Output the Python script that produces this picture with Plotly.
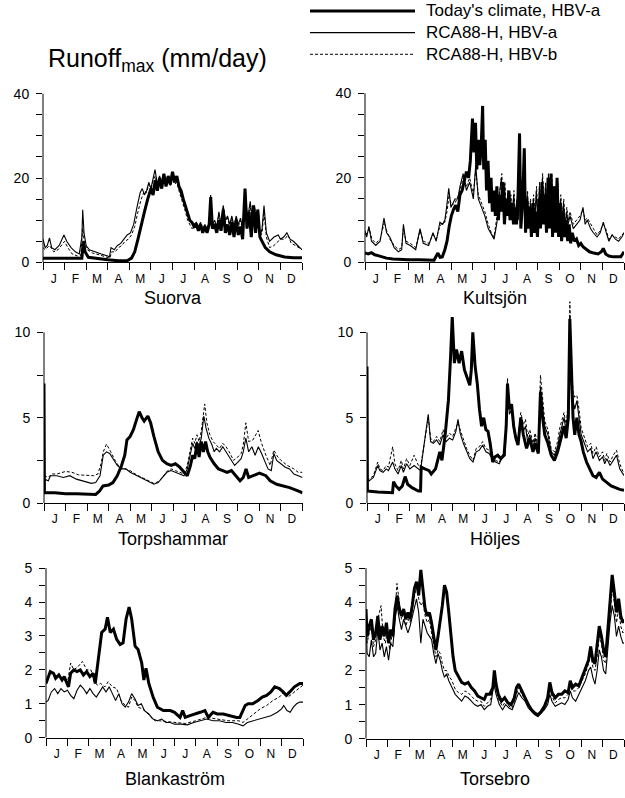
import plotly.graph_objects as go

W, H = 625, 798

MONTH_LABELS = ["J", "F", "M", "A", "M", "J", "J", "A", "S", "O", "N", "D"]
SERIES_NAMES = ["Today's climate, HBV-a", "RCA88-H, HBV-a", "RCA88-H, HBV-b"]
STATIONS = ["Suorva", "Kultsjön", "Torpshammar", "Höljes", "Blankaström", "Torsebro"]
Y_TICK_MAX = [40, 40, 10, 10, 5, 5]
Y_LABEL_STEP = [20, 20, 5, 5, 1, 1]
Y_MINOR_STEP = [5, 5, 2.5, 2.5, 0.5, 0.5]

# ---- data: (month position, runoff mm/day) ----
suorva_today = [(0,1.0),(0.5,1.0),(1.0,0.9),(1.5,1.0),(1.8,1.0),(1.87,5.0),(1.95,2.5),(2.1,1.2),(2.5,0.9),(3.0,0.6),
 (3.5,0.4),(3.9,0.4),(4.1,1.0),(4.25,2.5),(4.4,5.5),(4.55,9),(4.7,12),(4.85,15),(5.0,17.5),(5.1,16),
 (5.2,19.5),(5.3,17),(5.4,20),(5.5,17.5),(5.6,21),(5.7,18),(5.8,20.5),(5.9,18.5),(6.0,21.5),(6.1,19),
 (6.2,20.5),(6.3,18),(6.4,17),(6.5,15),(6.6,13.5),(6.7,11.5),(6.8,10),(6.9,9.5),(7.0,8.5),(7.1,9),
 (7.2,7.5),(7.3,9),(7.4,7),(7.5,8.5),(7.6,7),(7.7,9),(7.77,15.5),(7.85,8),(7.95,9),(8.05,7),
 (8.15,10),(8.25,7.5),(8.35,12.5),(8.45,7),(8.55,9),(8.65,6.5),(8.75,9.5),(8.85,6),(8.95,10),(9.05,6.5),
 (9.15,8.5),(9.25,5.5),(9.36,17.5),(9.45,8),(9.55,12),(9.65,6),(9.75,13.5),(9.85,7),(9.95,12.5),(10.05,6),
 (10.15,5),(10.3,3.5),(10.5,2.5),(10.8,1.8),(11.2,1.3),(11.6,1.1),(12.0,1.1)]
suorva_a = [(0,5.5),(0.1,3.5),(0.2,4),(0.3,5.8),(0.4,3.5),(0.55,3.0),(0.75,4.0),(0.9,6.0),(0.97,6.5),(1.1,5),
 (1.3,3.5),(1.5,2.5),(1.68,2.0),(1.8,6),(1.84,12.5),(1.9,7),(2.0,4),(2.15,3),(2.4,2.5),(2.7,2.0),
 (3.0,1.5),(3.08,1.3),(3.15,3.5),(3.3,3),(3.45,4),(3.6,4.5),(3.75,5.5),(3.9,6.5),(4.05,7),(4.2,9),
 (4.35,13),(4.5,16.5),(4.6,17.5),(4.7,16),(4.8,17),(4.9,19),(5.0,17.5),(5.1,20),(5.19,22),(5.3,18.5),
 (5.4,20.5),(5.5,19),(5.6,20.5),(5.7,19),(5.8,20),(5.9,19),(6.0,21),(6.1,19),(6.2,19.5),(6.3,17.5),
 (6.4,16),(6.5,14.5),(6.6,12.5),(6.7,11),(6.8,10),(6.9,9.5),(7.0,9),(7.1,9.5),(7.2,8.5),(7.3,9.5),
 (7.4,8),(7.5,9),(7.6,8),(7.7,9.5),(7.77,16),(7.85,9),(7.95,10),(8.05,8.5),(8.15,12),(8.25,9),
 (8.35,13.5),(8.45,10),(8.55,11),(8.65,9),(8.75,11),(8.85,8.5),(8.95,11),(9.05,9),(9.15,10.5),(9.25,8),
 (9.38,17),(9.47,10),(9.6,14.5),(9.7,10),(9.8,13.5),(9.9,9),(9.98,12.5),(10.05,6),(10.15,8),(10.24,13.5),
 (10.35,7),(10.5,5),(10.7,6),(10.9,6.5),(11.0,5.5),(11.15,6),(11.3,7),(11.45,5.5),(11.6,5),(11.8,4),(12,3)]
suorva_b = [(0,3.5),(0.1,3),(0.3,4.0),(0.5,2.5),(0.7,3),(0.9,4.5),(1.0,5),(1.15,3.5),(1.35,2),(1.6,1.5),
 (1.75,1.6),(1.84,8),(1.92,4.5),(2.05,3),(2.3,2.2),(2.6,1.8),(2.9,1.3),(3.1,1.0),(3.18,2.5),(3.35,2.5),
 (3.5,3.5),(3.65,4),(3.8,5),(3.95,5.5),(4.1,6.5),(4.25,8.5),(4.4,12),(4.55,15),(4.7,17),(4.8,16.5),
 (4.9,18.5),(5.0,17),(5.1,19.5),(5.2,20.5),(5.3,18),(5.4,20),(5.5,18.5),(5.6,20),(5.7,18.5),(5.8,19.5),
 (5.9,18),(6.0,20),(6.1,18.5),(6.2,19),(6.3,17),(6.4,15.5),(6.5,13.5),(6.6,12),(6.7,10),(6.8,9),
 (6.9,8),(7.0,8.5),(7.1,9),(7.2,8),(7.3,9),(7.4,7.5),(7.5,8.5),(7.6,7.5),(7.7,9),(7.77,14),
 (7.85,8.5),(7.95,9.5),(8.05,8),(8.15,11.5),(8.25,8.5),(8.35,13),(8.45,9.5),(8.55,10.5),(8.65,8.5),(8.75,10.5),
 (8.85,8),(8.95,10.5),(9.05,8.5),(9.15,10),(9.25,7.5),(9.38,16),(9.47,9.5),(9.6,13.5),(9.7,9.5),(9.8,13),
 (9.9,8.5),(9.98,12),(10.05,6),(10.15,7),(10.24,12),(10.35,6),(10.5,3.5),(10.7,4),(10.9,5),(11.05,5.5),
 (11.2,5.5),(11.35,6.5),(11.5,4.5),(11.7,4),(11.85,3.5),(12,3)]

kultsjon_today = [(0,2.2),(0.15,2.0),(0.3,2.3),(0.45,1.8),(0.6,1.6),(0.8,1.3),(1.0,1.0),(1.3,0.8),(1.6,0.7),(2.0,0.6),
 (2.5,0.6),(3.0,0.5),(3.2,0.5),(3.3,1.5),(3.38,2.2),(3.48,1.2),(3.58,1.3),(3.7,3),(3.8,5),(3.9,8.5),
 (4.0,11),(4.1,12.5),(4.2,13.5),(4.3,12),(4.4,16),(4.5,17),(4.6,19),(4.7,21.5),(4.8,20),(4.88,24),
 (4.98,34),(5.05,26),(5.12,33),(5.18,22),(5.25,29),(5.32,23),(5.38,27),(5.45,37),(5.5,22),(5.57,29),
 (5.63,17),(5.7,24),(5.77,14),(5.84,20),(5.9,12),(5.97,17),(6.04,11),(6.11,18),(6.18,10),(6.25,16),
 (6.32,12),(6.39,19),(6.46,9),(6.53,15),(6.6,11),(6.67,17),(6.74,10),(6.81,14),(6.88,9),(6.95,13),
 (7.02,9),(7.09,16),(7.16,30.5),(7.22,8),(7.3,14),(7.38,27),(7.44,7),(7.5,15),(7.57,8),(7.64,13),
 (7.71,6),(7.78,14),(7.85,7),(7.92,12),(7.99,6),(8.06,15),(8.13,8),(8.2,19),(8.27,9),(8.34,16),
 (8.41,7),(8.48,20),(8.55,8),(8.62,21),(8.69,6),(8.76,18),(8.83,7),(8.9,20),(8.97,6),(9.04,14),
 (9.11,5),(9.18,12),(9.25,6),(9.32,10),(9.39,5),(9.46,9),(9.53,4.5),(9.6,7),(9.7,5),(9.8,5.5),
 (9.9,4),(10.0,4.5),(10.1,3.7),(10.25,3),(10.4,2.5),(10.6,2.2),(10.8,2),(10.95,2.5),(11.04,3.3),(11.15,2),
 (11.3,1.5),(11.5,1.3),(11.7,1.2),(11.85,1.3),(12,2.5)]
kultsjon_a = [(0,7.5),(0.08,6),(0.18,8.5),(0.3,5),(0.5,4),(0.7,5),(0.88,10.5),(1.0,7),(1.15,6),(1.35,3.5),
 (1.55,2.5),(1.7,3),(1.78,9),(1.9,4.5),(2.1,4),(2.35,3),(2.55,8),(2.7,4.5),(2.95,4),(3.15,7),
 (3.3,5),(3.47,9.5),(3.6,9),(3.7,10),(3.78,13),(3.88,17.5),(3.98,13),(4.17,15),(4.3,15),(4.4,18),
 (4.55,21),(4.7,17),(4.85,19),(5.02,15),(5.13,23),(5.25,15),(5.4,13),(5.55,11),(5.71,8),(5.85,6.5),
 (5.98,5.5),(6.1,9),(6.2,13),(6.25,17),(6.32,20),(6.4,13),(6.47,18),(6.54,11),(6.61,16),(6.68,10),
 (6.75,15),(6.82,11),(6.89,16),(6.96,10),(7.03,14),(7.1,10),(7.17,22),(7.24,10),(7.31,15),(7.38,20),
 (7.45,10),(7.52,16),(7.59,9),(7.66,14),(7.73,9),(7.8,15),(7.87,10),(7.94,17),(8.01,8),(8.08,18),
 (8.15,9),(8.22,20),(8.29,10),(8.36,18),(8.43,9),(8.5,21),(8.57,10),(8.64,20),(8.71,9),(8.78,17),
 (8.85,10),(8.92,18),(8.99,9),(9.06,15),(9.13,10),(9.2,14),(9.27,8),(9.34,12),(9.41,9),(9.5,11),
 (9.65,8),(9.8,9),(9.96,10),(10.1,13),(10.2,9),(10.3,10),(10.45,8),(10.58,7),(10.75,6),(10.9,7),
 (11.04,9.5),(11.15,7.5),(11.3,5),(11.45,6.5),(11.6,5.5),(11.75,5),(11.9,6),(12,7)]
kultsjon_b = [(0,6.5),(0.1,7),(0.2,8),(0.32,5.5),(0.5,4.5),(0.7,5.5),(0.9,9.5),(1.0,7.5),(1.15,5.5),(1.35,4),
 (1.55,3),(1.7,3.5),(1.78,8),(1.9,5),(2.1,4.5),(2.35,3.5),(2.55,7.5),(2.7,5),(2.95,4.5),(3.15,6.5),
 (3.3,5.5),(3.47,8.5),(3.6,9.5),(3.7,9.5),(3.8,12),(3.9,16),(4.0,13.5),(4.17,14),(4.3,15.5),(4.4,17),
 (4.55,20),(4.7,18),(4.85,20),(5.02,16),(5.13,22),(5.25,16),(5.4,14),(5.55,12),(5.71,9),(5.85,7),
 (5.98,6),(6.1,10),(6.2,14),(6.27,18),(6.34,21),(6.41,12),(6.48,19),(6.55,12),(6.62,17),(6.69,11),
 (6.76,16),(6.83,10),(6.9,17),(6.97,11),(7.04,15),(7.11,11),(7.18,21),(7.25,11),(7.32,16),(7.39,19),
 (7.46,11),(7.53,17),(7.6,10),(7.67,15),(7.74,10),(7.81,16),(7.88,11),(7.95,18),(8.02,9),(8.09,19),
 (8.16,10),(8.23,21),(8.3,11),(8.37,19),(8.44,10),(8.51,20),(8.58,11),(8.65,21),(8.72,10),(8.79,18),
 (8.86,11),(8.93,19),(9.0,10),(9.07,16),(9.14,11),(9.21,15),(9.28,9),(9.35,13),(9.42,10),(9.5,12),
 (9.65,9),(9.8,10),(9.96,11),(10.1,12.5),(10.2,10),(10.3,10.5),(10.45,9),(10.58,8),(10.75,6.5),(10.9,7.5),
 (11.04,9),(11.15,8),(11.3,5.5),(11.45,6.5),(11.6,6),(11.75,5.5),(11.9,6.5),(12,7)]

torpshammar_today = [(0,7.0),(0.02,0.6),(0.5,0.6),(1.0,0.55),(1.5,0.55),(2.0,0.5),(2.4,0.5),(2.58,0.7),(2.74,1.0),(3.0,1.05),
 (3.2,1.2),(3.4,1.6),(3.6,2.2),(3.75,2.8),(3.85,3.7),(4.0,3.9),(4.15,4.3),(4.3,4.9),(4.42,5.35),(4.55,5.0),
 (4.65,4.8),(4.82,5.1),(4.95,4.7),(5.1,3.9),(5.3,3.0),(5.5,2.5),(5.7,2.3),(5.9,2.2),(6.1,2.3),(6.3,2.1),
 (6.5,1.8),(6.65,1.6),(6.8,2.2),(6.9,2.8),(7.0,2.6),(7.1,3.5),(7.2,2.7),(7.3,3.6),(7.4,3.0),(7.5,3.6),
 (7.6,3.0),(7.7,2.7),(7.9,2.3),(8.1,2.0),(8.3,1.9),(8.5,1.8),(8.7,1.9),(8.9,1.6),(9.1,1.3),(9.25,1.5),
 (9.38,2.0),(9.5,1.5),(9.7,1.6),(10.0,1.75),(10.3,1.6),(10.5,1.3),(10.8,1.1),(11.1,1.0),(11.4,0.9),(11.7,0.75),
 (12,0.6)]
torpshammar_a = [(0,1.4),(0.2,1.3),(0.3,1.6),(0.6,1.6),(0.9,1.5),(1.2,1.6),(1.5,1.4),(1.8,1.3),(2.0,1.2),(2.2,1.15),
 (2.4,1.2),(2.6,1.6),(2.75,2.8),(2.9,3.0),(3.05,2.9),(3.2,2.6),(3.4,2.2),(3.6,2.0),(3.8,2.0),(4.0,1.8),
 (4.3,1.6),(4.6,1.4),(4.9,1.2),(5.1,1.1),(5.3,1.2),(5.5,1.5),(5.7,1.8),(5.9,1.9),(6.1,1.8),(6.3,1.7),
 (6.5,1.6),(6.65,2.0),(6.8,2.8),(6.9,3.5),(7.0,3.2),(7.1,3.6),(7.2,3.3),(7.3,3.8),(7.42,5.1),(7.52,4.4),
 (7.65,3.8),(7.8,3.4),(7.9,3.0),(8.0,3.2),(8.15,3.0),(8.3,3.3),(8.5,2.9),(8.7,2.5),(8.85,2.2),(9.0,2.4),
 (9.15,2.6),(9.25,3.0),(9.37,3.8),(9.5,3.0),(9.65,3.3),(9.8,2.8),(9.95,3.3),(10.1,2.9),(10.25,2.5),(10.4,2.0),
 (10.55,1.9),(10.67,2.9),(10.8,2.5),(11.0,2.3),(11.2,2.1),(11.4,2.0),(11.6,1.7),(11.8,1.6),(12,1.5)]
torpshammar_b = [(0,1.6),(0.2,1.5),(0.35,1.7),(0.6,1.7),(1.0,1.85),(1.3,1.8),(1.6,1.65),(2.0,1.6),(2.3,1.6),(2.5,1.7),
 (2.65,2.3),(2.75,3.0),(2.9,3.45),(3.1,3.0),(3.3,2.5),(3.5,2.1),(3.8,2.0),(4.0,1.9),(4.3,1.65),(4.6,1.45),
 (4.9,1.25),(5.1,1.15),(5.3,1.25),(5.5,1.5),(5.7,1.85),(5.9,2.0),(6.1,1.9),(6.3,1.8),(6.5,1.7),(6.65,2.2),
 (6.8,3.1),(6.9,3.8),(7.0,3.5),(7.1,4.0),(7.2,3.6),(7.3,4.2),(7.46,5.8),(7.56,4.7),(7.7,4.0),(7.85,3.6),
 (8.0,3.4),(8.15,3.2),(8.3,3.5),(8.45,3.3),(8.6,3.0),(8.8,2.5),(9.0,2.7),(9.15,2.9),(9.25,3.4),(9.37,4.7),
 (9.5,3.6),(9.7,3.7),(9.94,4.25),(10.1,3.5),(10.3,2.8),(10.5,2.2),(10.67,3.1),(10.85,2.7),(11.0,2.5),(11.3,2.2),
 (11.6,2.0),(11.8,1.8),(12,1.8)]

holjes_today = [(0,8.0),(0.02,0.7),(0.5,0.65),(1.0,0.6),(1.19,0.6),(1.24,1.25),(1.35,1.0),(1.5,0.8),(1.65,1.0),(1.78,1.55),
 (1.9,1.1),(2.1,0.9),(2.4,0.7),(2.5,0.7),(2.53,2.1),(2.7,2.0),(2.9,1.9),(3.0,1.7),(3.2,2.0),(3.4,3.0),
 (3.5,2.5),(3.65,4.0),(3.8,6.0),(3.9,8.5),(3.98,10.9),(4.08,8.2),(4.18,9.0),(4.3,8.2),(4.42,8.9),(4.55,7.8),
 (4.7,7.2),(4.8,6.9),(4.87,7.8),(4.94,10.0),(5.05,8.0),(5.15,7.0),(5.25,5.5),(5.35,4.5),(5.45,5.0),(5.55,4.3),
 (5.65,4.2),(5.75,3.5),(5.87,2.4),(5.97,2.7),(6.1,2.8),(6.25,2.6),(6.4,2.8),(6.5,4.5),(6.56,7.0),(6.65,5.5),
 (6.75,5.8),(6.85,4.5),(6.95,3.8),(7.05,3.4),(7.18,5.0),(7.3,4.0),(7.45,3.2),(7.6,3.8),(7.75,3.0),(7.85,3.5),
 (8.0,2.9),(8.1,6.5),(8.2,5.0),(8.3,4.0),(8.45,3.5),(8.6,2.8),(8.75,2.5),(8.9,3.0),(9.0,3.5),(9.1,4.0),
 (9.2,4.5),(9.3,3.8),(9.4,5.0),(9.47,10.8),(9.55,7.0),(9.62,5.0),(9.7,4.0),(9.8,5.0),(9.9,4.0),(10.0,3.6),
 (10.1,3.0),(10.25,2.4),(10.4,2.0),(10.55,1.6),(10.7,1.5),(10.85,1.8),(11.0,1.4),(11.2,1.2),(11.4,1.0),(11.6,0.9),
 (11.8,0.8),(12,0.75)]
holjes_a = [(0,1.5),(0.1,1.3),(0.2,1.4),(0.3,1.5),(0.5,2.2),(0.6,1.9),(0.75,1.8),(0.9,2.0),(1.0,1.9),(1.2,2.4),
 (1.3,2.0),(1.45,1.7),(1.6,2.2),(1.7,1.8),(1.85,2.3),(2.0,2.0),(2.2,2.2),(2.4,2.0),(2.5,1.9),(2.86,5.2),
 (2.97,3.6),(3.1,3.5),(3.25,3.7),(3.4,3.4),(3.55,4.0),(3.7,3.6),(3.85,3.8),(4.0,3.7),(4.15,4.2),(4.25,4.9),
 (4.35,4.1),(4.5,3.5),(4.65,3.0),(4.8,2.6),(4.95,2.4),(5.1,3.0),(5.25,3.1),(5.4,3.4),(5.55,3.0),(5.7,2.9),
 (5.85,2.6),(6.0,2.4),(6.18,2.3),(6.35,2.8),(6.45,2.8),(6.56,6.8),(6.65,5.2),(6.75,5.5),(6.85,4.3),(6.95,3.7),
 (7.05,3.5),(7.18,4.8),(7.3,4.2),(7.4,4.5),(7.5,3.6),(7.6,4.0),(7.75,3.2),(7.85,3.8),(8.0,3.0),(8.1,6.8),
 (8.2,5.5),(8.3,4.5),(8.45,4.0),(8.6,3.0),(8.75,2.8),(8.9,3.3),(9.0,4.0),(9.1,4.5),(9.2,5.0),(9.3,4.2),
 (9.4,5.5),(9.47,11.0),(9.55,7.5),(9.62,6.0),(9.7,5.5),(9.8,6.0),(9.9,5.0),(10.0,4.0),(10.15,3.5),(10.3,3.0),
 (10.45,3.2),(10.55,2.6),(10.7,3.0),(10.85,2.5),(11.0,2.7),(11.1,2.3),(11.2,2.6),(11.35,2.2),(11.5,2.5),(11.65,2.8),
 (11.8,2.0),(12,1.6)]
holjes_b = [(0,1.5),(0.1,1.4),(0.2,1.5),(0.3,1.6),(0.5,2.4),(0.6,2.0),(0.75,1.9),(0.9,2.2),(1.0,2.1),(1.2,3.3),
 (1.3,2.3),(1.45,1.9),(1.6,2.5),(1.7,2.0),(1.85,2.6),(2.0,2.2),(2.2,2.8),(2.4,2.2),(2.5,2.1),(2.86,5.0),
 (2.97,3.8),(3.1,3.6),(3.25,3.9),(3.4,3.6),(3.55,4.3),(3.7,3.8),(3.85,4.1),(4.0,3.9),(4.15,4.4),(4.25,4.7),
 (4.35,4.3),(4.5,3.7),(4.65,3.2),(4.8,2.8),(4.95,2.5),(5.1,3.2),(5.25,3.3),(5.4,3.6),(5.55,3.2),(5.7,3.1),
 (5.85,2.7),(6.0,2.5),(6.18,2.4),(6.35,2.9),(6.45,3.0),(6.56,7.3),(6.65,5.6),(6.75,5.8),(6.85,4.6),(6.95,3.9),
 (7.05,3.7),(7.18,5.3),(7.3,4.6),(7.4,4.9),(7.5,3.9),(7.6,4.3),(7.75,3.5),(7.85,4.1),(8.0,3.2),(8.1,7.5),
 (8.2,6.0),(8.3,4.8),(8.45,4.3),(8.6,3.2),(8.75,3.0),(8.9,3.6),(9.0,4.4),(9.1,4.8),(9.2,5.3),(9.3,4.5),
 (9.4,6.0),(9.47,11.8),(9.55,8.0),(9.62,6.5),(9.7,6.2),(9.8,6.3),(9.9,5.5),(10.0,4.4),(10.15,3.8),(10.3,3.3),
 (10.45,3.5),(10.55,2.9),(10.7,3.3),(10.85,2.7),(11.0,3.0),(11.1,2.5),(11.2,2.9),(11.35,2.4),(11.5,2.8),(11.65,3.1),
 (11.8,2.3),(12,1.7)]

blankastrom_today = [(0,1.6),(0.1,1.8),(0.2,1.95),(0.35,1.9),(0.45,1.75),(0.6,1.85),(0.75,1.7),(0.85,1.8),(1.0,1.55),(1.05,1.5),
 (1.15,1.9),(1.3,2.0),(1.45,1.95),(1.6,2.0),(1.75,1.85),(1.9,1.95),(2.05,1.8),(2.2,1.9),(2.3,1.6),(2.45,2.3),
 (2.6,3.1),(2.76,3.2),(2.87,3.55),(3.0,3.1),(3.15,3.2),(3.3,2.9),(3.46,2.75),(3.6,2.8),(3.74,3.5),(3.88,3.85),
 (4.0,3.5),(4.16,2.7),(4.3,2.6),(4.47,2.2),(4.57,1.7),(4.67,2.05),(4.8,1.6),(5.0,1.2),(5.2,0.9),(5.48,0.8),
 (5.8,0.8),(6.0,0.75),(6.26,0.6),(6.38,0.8),(6.5,0.6),(6.72,0.65),(7.03,0.7),(7.2,0.75),(7.42,0.8),(7.58,0.6),
 (7.8,0.75),(8.0,0.7),(8.28,0.7),(8.6,0.65),(8.9,0.6),(9.05,0.6),(9.18,0.8),(9.3,0.95),(9.44,1.0),(9.65,1.0),
 (9.9,1.1),(10.1,1.2),(10.3,1.25),(10.5,1.35),(10.68,1.5),(10.9,1.45),(11.07,1.35),(11.22,1.25),(11.38,1.35),(11.6,1.5),
 (11.85,1.6),(12,1.6)]
blankastrom_a = [(0,1.05),(0.1,1.1),(0.25,1.35),(0.4,1.45),(0.55,1.3),(0.7,1.45),(0.85,1.35),(1.0,1.4),(1.15,1.25),(1.3,1.15),
 (1.45,1.4),(1.6,1.55),(1.75,1.45),(1.9,1.3),(2.05,1.45),(2.2,1.3),(2.35,1.2),(2.5,1.35),(2.65,1.5),(2.8,1.35),
 (2.95,1.5),(3.1,1.3),(3.25,1.1),(3.4,1.3),(3.55,1.0),(3.7,0.9),(3.85,1.05),(4.0,1.3),(4.15,1.15),(4.3,0.95),
 (4.45,1.0),(4.6,0.8),(4.8,0.7),(5.0,0.55),(5.2,0.5),(5.4,0.55),(5.6,0.45),(5.8,0.45),(6.0,0.4),(6.3,0.4),
 (6.6,0.38),(6.9,0.45),(7.2,0.5),(7.5,0.55),(7.8,0.5),(8.1,0.5),(8.4,0.45),(8.7,0.45),(9.0,0.4),(9.2,0.35),
 (9.4,0.45),(9.7,0.5),(10.0,0.55),(10.3,0.6),(10.5,0.65),(10.8,0.75),(11.0,0.85),(11.1,0.95),(11.25,0.8),(11.4,0.75),
 (11.55,0.9),(11.7,1.0),(11.85,1.05),(12,1.05)]
blankastrom_b = [(0,1.6),(0.2,1.9),(0.4,1.85),(0.6,1.8),(0.8,1.75),(1.0,1.6),(1.15,2.2),(1.3,2.0),(1.5,2.1),(1.7,2.25),
 (1.9,2.0),(2.1,2.0),(2.25,1.65),(2.4,1.55),(2.55,1.6),(2.75,1.5),(2.9,1.65),(3.1,1.5),(3.3,1.45),(3.5,1.1),
 (3.7,0.95),(3.85,0.9),(4.0,1.2),(4.15,1.1),(4.3,0.9),(4.5,0.85),(4.7,0.75),(4.9,0.6),(5.1,0.5),(5.3,0.5),
 (5.6,0.48),(6.0,0.45),(6.5,0.42),(7.0,0.5),(7.5,0.6),(8.0,0.55),(8.5,0.5),(9.0,0.5),(9.2,0.45),(9.5,0.6),
 (9.8,0.75),(10.0,0.85),(10.3,0.95),(10.6,1.1),(10.9,1.2),(11.1,1.35),(11.3,1.2),(11.5,1.3),(11.7,1.4),(11.9,1.5),
 (12,1.55)]

torsebro_today = [(0,3.8),(0.05,3.0),(0.15,3.3),(0.25,3.5),(0.35,2.9),(0.45,3.1),(0.55,3.6),(0.65,2.9),(0.75,3.3),(0.85,3.0),
 (0.95,3.4),(1.05,2.8),(1.15,3.2),(1.25,3.0),(1.35,3.8),(1.45,4.2),(1.55,3.8),(1.65,3.6),(1.75,3.8),(1.85,3.5),
 (1.95,3.7),(2.05,3.5),(2.15,3.9),(2.25,4.4),(2.35,4.6),(2.45,4.2),(2.55,4.95),(2.65,4.3),(2.75,3.8),(2.85,3.6),
 (2.95,3.7),(3.05,3.4),(3.15,3.0),(3.25,2.6),(3.35,3.0),(3.45,3.4),(3.55,3.9),(3.65,4.5),(3.75,4.3),(3.85,3.7),
 (3.95,3.0),(4.05,2.4),(4.15,2.0),(4.3,1.8),(4.45,1.65),(4.6,1.6),(4.75,1.65),(4.9,1.5),(5.05,1.4),(5.2,1.25),
 (5.35,1.2),(5.5,1.15),(5.6,1.3),(5.75,1.3),(5.9,1.5),(5.97,2.0),(6.05,1.6),(6.15,1.3),(6.3,1.1),(6.45,1.2),
 (6.6,1.05),(6.75,1.0),(6.9,1.2),(7.0,1.5),(7.1,1.6),(7.25,1.4),(7.4,1.2),(7.55,1.0),(7.7,0.85),(7.85,0.75),
 (8.0,0.7),(8.15,0.8),(8.3,0.95),(8.45,1.2),(8.55,1.65),(8.65,1.35),(8.8,1.2),(8.95,1.3),(9.1,1.3),(9.25,1.4),
 (9.4,1.35),(9.5,1.7),(9.6,1.5),(9.75,1.6),(9.9,1.55),(10.05,1.8),(10.2,2.1),(10.35,2.3),(10.45,2.7),(10.55,2.3),
 (10.65,2.2),(10.75,2.7),(10.85,3.3),(10.95,3.0),(11.05,2.6),(11.15,2.4),(11.25,3.2),(11.35,4.0),(11.45,4.8),(11.55,4.3),
 (11.65,3.7),(11.75,4.1),(11.85,3.6),(11.95,3.4),(12,3.5)]
torsebro_a = [(0,3.7),(0.05,2.5),(0.15,2.4),(0.25,2.9),(0.35,2.4),(0.45,2.5),(0.55,3.2),(0.65,2.6),(0.75,2.8),(0.85,2.4),
 (0.95,2.7),(1.05,2.3),(1.15,2.8),(1.25,2.7),(1.35,3.5),(1.45,3.9),(1.55,3.5),(1.65,3.2),(1.75,3.5),(1.85,3.3),
 (1.95,3.1),(2.05,3.3),(2.15,3.6),(2.25,3.9),(2.35,4.1),(2.45,3.7),(2.55,2.8),(2.65,3.5),(2.75,3.3),(2.85,3.1),
 (2.95,3.0),(3.05,2.9),(3.15,2.5),(3.25,2.2),(3.35,2.5),(3.45,2.3),(3.55,2.0),(3.65,1.8),(3.75,1.9),(3.85,1.7),
 (4.0,1.5),(4.15,1.3),(4.3,1.2),(4.45,1.1),(4.6,1.25),(4.75,1.2),(4.9,1.1),(5.05,1.0),(5.2,0.95),(5.35,1.0),
 (5.5,0.85),(5.65,0.95),(5.8,1.0),(5.95,1.6),(6.05,1.3),(6.2,1.0),(6.35,0.85),(6.5,1.0),(6.65,0.9),(6.8,0.85),
 (6.95,1.1),(7.1,1.35),(7.25,1.2),(7.4,1.1),(7.55,0.9),(7.7,0.8),(7.85,0.7),(8.0,0.65),(8.15,0.75),(8.3,0.85),
 (8.45,1.0),(8.55,1.3),(8.65,1.1),(8.8,0.95),(8.95,1.0),(9.1,1.05),(9.25,1.0),(9.4,1.15),(9.5,1.4),(9.6,1.2),
 (9.75,1.1),(9.9,1.3),(10.05,1.5),(10.2,1.7),(10.35,2.0),(10.45,2.1),(10.55,1.8),(10.65,1.6),(10.75,2.0),(10.85,2.6),
 (10.95,2.4),(11.05,2.0),(11.15,1.9),(11.25,2.7),(11.35,3.4),(11.45,3.9),(11.55,3.6),(11.65,3.0),(11.75,3.3),(11.85,3.0),
 (11.95,2.8),(12,2.8)]
torsebro_b = [(0,3.6),(0.05,2.8),(0.15,3.1),(0.25,3.3),(0.35,2.7),(0.45,2.9),(0.55,3.5),(0.7,3.9),(0.8,3.0),(0.9,2.8),
 (1.0,3.2),(1.1,2.6),(1.2,3.0),(1.3,3.2),(1.44,4.55),(1.55,3.9),(1.65,3.5),(1.75,3.7),(1.85,3.3),(1.95,3.5),
 (2.05,3.4),(2.15,3.8),(2.25,4.2),(2.35,4.5),(2.45,4.1),(2.55,3.9),(2.65,4.0),(2.75,3.6),(2.85,3.4),(2.95,3.5),
 (3.05,3.1),(3.15,2.7),(3.25,2.4),(3.35,2.6),(3.45,2.5),(3.55,2.2),(3.65,2.0),(3.75,2.0),(3.85,1.85),(4.0,1.7),
 (4.15,1.45),(4.3,1.35),(4.45,1.3),(4.6,1.4),(4.75,1.35),(4.9,1.25),(5.05,1.15),(5.2,1.1),(5.35,1.1),(5.5,0.95),
 (5.65,1.05),(5.8,1.15),(5.95,1.8),(6.05,1.45),(6.2,1.1),(6.35,0.95),(6.5,1.1),(6.65,0.95),(6.8,0.9),(6.95,1.2),
 (7.1,1.5),(7.25,1.3),(7.4,1.15),(7.55,0.95),(7.7,0.8),(7.85,0.7),(8.0,0.65),(8.15,0.75),(8.3,0.9),(8.45,1.1),
 (8.55,1.5),(8.65,1.25),(8.8,1.05),(8.95,1.15),(9.1,1.2),(9.25,1.2),(9.4,1.3),(9.5,1.6),(9.6,1.4),(9.75,1.4),
 (9.9,1.5),(10.05,1.7),(10.2,1.9),(10.35,2.2),(10.45,2.5),(10.55,2.1),(10.65,2.0),(10.75,2.4),(10.85,3.0),(10.95,2.8),
 (11.05,2.3),(11.15,2.2),(11.25,3.0),(11.35,3.8),(11.45,4.4),(11.55,4.0),(11.65,3.4),(11.75,3.8),(11.85,3.3),(11.95,3.1),
 (12,3.2)]

STATION_DATA = [
    (suorva_today, suorva_a, suorva_b),
    (kultsjon_today, kultsjon_a, kultsjon_b),
    (torpshammar_today, torpshammar_a, torpshammar_b),
    (holjes_today, holjes_a, holjes_b),
    (blankastrom_today, blankastrom_a, blankastrom_b),
    (torsebro_today, torsebro_a, torsebro_b),
]

# ---- layout geometry (pixels): x left, x right, y of zero, y of top tick, top of plot area, y of station name
GEOM = [
    (43, 302, 263, 92, 86, 299),
    (365, 624, 263, 91.5, 86, 299),
    (44, 302.5, 507, 334, 328, 543),
    (367, 624, 507, 334, 296, 543),
    (46, 303, 745, 573, 566, 787),
    (366, 624, 746, 573, 566, 787),
]

STYLES = [  # index into series tuple, line style; drawn in this order
    (2, dict(color="black", width=1.0, dash="3px,2px")),
    (1, dict(color="black", width=1.1)),
    (0, dict(color="black", width=3.0)),
]

FONT = "Liberation Sans, Arial, Helvetica, sans-serif"

fig = go.Figure()
layout = {}
shapes = []
annotations = []

for i, (name, data, geom) in enumerate(zip(STATIONS, STATION_DATA, GEOM)):
    n = "" if i == 0 else str(i + 1)
    x0, x1, yz, yt, ytop, name_y = geom
    ymax = Y_TICK_MAX[i]
    range_top = ymax * (yz - ytop) / (yz - yt)
    for idx, style in STYLES:
        pts = data[idx]
        fig.add_trace(go.Scatter(
            x=[p[0] for p in pts], y=[p[1] for p in pts], mode="lines",
            line=dict(shape="linear", **style), name=SERIES_NAMES[idx],
            xaxis="x" + n, yaxis="y" + n, showlegend=False, hoverinfo="skip"))
    layout["xaxis" + n] = dict(
        domain=[x0 / W, x1 / W], range=[0, 12], anchor="y" + n,
        showline=True, linecolor="black", linewidth=1, showgrid=False, zeroline=False,
        tickmode="array", tickvals=[m + 0.5 for m in range(12)], ticktext=MONTH_LABELS,
        ticks="outside", ticklen=5, tickcolor="rgba(0,0,0,0)",
        tickfont=dict(size=12, family=FONT, color="black"),
        minor=dict(tick0=0, dtick=1, ticks="outside", ticklen=7, tickcolor="black", tickwidth=1, showgrid=False),
        fixedrange=True)
    layout["yaxis" + n] = dict(
        domain=[1 - yz / H, 1 - ytop / H], range=[0, range_top], anchor="x" + n,
        showline=False, showgrid=False, zeroline=False,
        tickmode="linear", tick0=0, dtick=Y_LABEL_STEP[i],
        ticks="outside", ticklen=6, tickcolor="black", tickwidth=1,
        ticklabelstandoff=4,
        tickfont=dict(size=14, family=FONT, color="black"),
        minor=dict(tick0=0, dtick=Y_MINOR_STEP[i], ticks="outside", ticklen=6, tickcolor="black", tickwidth=1, showgrid=False),
        fixedrange=True)
    shapes.append(dict(type="line", xref="x" + n + " domain", yref="y" + n,
                       x0=0, x1=0, y0=0, y1=ymax, line=dict(color="black", width=1)))
    annotations.append(dict(text=name, xref="paper", yref="paper",
                            x=(x0 + x1) / 2 / W, y=1 - name_y / H, xanchor="center", yanchor="middle",
                            showarrow=False, font=dict(size=18, family=FONT, color="black")))

# ---- header: title and legend key ----
annotations.append(dict(text="Runoff<sub>max</sub> (mm/day)", xref="paper", yref="paper",
                        x=46 / W, y=1 - 58 / H, xanchor="left", yanchor="middle", showarrow=False,
                        font=dict(size=25, family=FONT, color="black")))
LEGEND_ROWS = [8, 30, 52]
for (idx, style), row in zip([(0, STYLES[2][1]), (1, STYLES[1][1]), (2, STYLES[0][1])], LEGEND_ROWS):
    shapes.append(dict(type="line", xref="paper", yref="paper",
                       x0=310 / W, x1=415 / W, y0=1 - row / H, y1=1 - row / H,
                       line=dict(color="black", width=style["width"], dash=style.get("dash", "solid"))))
    annotations.append(dict(text=SERIES_NAMES[idx], xref="paper", yref="paper",
                            x=424 / W, y=1 - row / H, xanchor="left", yanchor="middle", showarrow=False,
                            font=dict(size=17, family=FONT, color="black")))

fig.update_layout(
    width=W, height=H, margin=dict(l=0, r=0, t=0, b=0),
    paper_bgcolor="white", plot_bgcolor="white",
    font=dict(family=FONT, color="black"),
    showlegend=False, shapes=shapes, annotations=annotations, **layout)

fig.write_html("out.html")
